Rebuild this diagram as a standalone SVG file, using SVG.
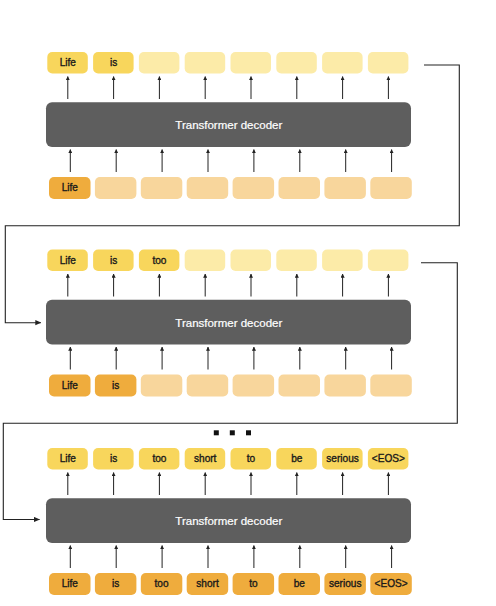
<svg xmlns="http://www.w3.org/2000/svg" width="496" height="606" viewBox="0 0 496 606">
<defs>
<style>
.bg{fill:#ffffff}
.top{fill:#FCEBA8}
.topf{fill:#F8D65C}
.bot{fill:#F8D69C}
.botf{fill:#EFAC3D}
.dec{fill:#5E5E5E}
.lbl{font-family:"Liberation Sans",Arial,sans-serif;font-size:10.1px;fill:#1a1a1a;text-anchor:middle;stroke:#1a1a1a;stroke-width:0.35px}
.dlbl{font-family:"Liberation Sans",Arial,sans-serif;font-size:11.5px;fill:#ffffff;text-anchor:middle;stroke:#ffffff;stroke-width:0.2px}
.arr{stroke:#222;stroke-width:1;fill:none;marker-end:url(#ah)}
.conn{stroke:#222;stroke-width:1.1;fill:none}
</style>
<marker id="ah" viewBox="0 0 6 6" refX="5.5" refY="3" markerWidth="4.2" markerHeight="4.2" orient="auto" markerUnits="userSpaceOnUse">
<path d="M0,0 L6,3 L0,6 z" fill="#222"/>
</marker>
<marker id="ahc" viewBox="0 0 6 6" refX="5.5" refY="3" markerWidth="6" markerHeight="6" orient="auto" markerUnits="userSpaceOnUse">
<path d="M0,0.4 L6,3 L0,5.6 z" fill="#222"/>
</marker>
<g id="arrows">
<line class="arr" x1="67.8" y1="99" x2="67.8" y2="76.5"/>
<line class="arr" x1="113.6" y1="99" x2="113.6" y2="76.5"/>
<line class="arr" x1="159.4" y1="99" x2="159.4" y2="76.5"/>
<line class="arr" x1="205.2" y1="99" x2="205.2" y2="76.5"/>
<line class="arr" x1="251" y1="99" x2="251" y2="76.5"/>
<line class="arr" x1="296.8" y1="99" x2="296.8" y2="76.5"/>
<line class="arr" x1="342.6" y1="99" x2="342.6" y2="76.5"/>
<line class="arr" x1="388.4" y1="99" x2="388.4" y2="76.5"/>
<line class="arr" x1="70.3" y1="172" x2="70.3" y2="149.5"/>
<line class="arr" x1="116.2" y1="172" x2="116.2" y2="149.5"/>
<line class="arr" x1="162.1" y1="172" x2="162.1" y2="149.5"/>
<line class="arr" x1="208" y1="172" x2="208" y2="149.5"/>
<line class="arr" x1="253.9" y1="172" x2="253.9" y2="149.5"/>
<line class="arr" x1="299.8" y1="172" x2="299.8" y2="149.5"/>
<line class="arr" x1="345.7" y1="172" x2="345.7" y2="149.5"/>
<line class="arr" x1="391.6" y1="172" x2="391.6" y2="149.5"/>
</g>
</defs>
<rect class="bg" x="0" y="0" width="496" height="606"/>

<g id="block1">
<g id="b1-out">
<rect class="topf" x="47.3" y="52" width="40.5" height="21.5" rx="5"/>
<rect class="topf" x="93.1" y="52" width="40.5" height="21.5" rx="5"/>
<rect class="top" x="138.9" y="52" width="40.5" height="21.5" rx="5"/>
<rect class="top" x="184.7" y="52" width="40.5" height="21.5" rx="5"/>
<rect class="top" x="230.5" y="52" width="40.5" height="21.5" rx="5"/>
<rect class="top" x="276.3" y="52" width="40.5" height="21.5" rx="5"/>
<rect class="top" x="322.1" y="52" width="40.5" height="21.5" rx="5"/>
<rect class="top" x="367.9" y="52" width="40.5" height="21.5" rx="5"/>
<text class="lbl" x="67.8" y="66.4">Life</text>
<text class="lbl" x="113.6" y="66.4">is</text>
</g>
<g id="b1-dec">
<rect class="dec" x="46" y="102.3" width="365" height="44.7" rx="6"/>
<text class="dlbl" x="228.8" y="129.2">Transformer decoder</text>
</g>
<g id="b1-in">
<rect class="botf" x="49" y="177" width="41.5" height="22" rx="5"/>
<rect class="bot" x="94.9" y="177" width="41.5" height="22" rx="5"/>
<rect class="bot" x="140.8" y="177" width="41.5" height="22" rx="5"/>
<rect class="bot" x="186.7" y="177" width="41.5" height="22" rx="5"/>
<rect class="bot" x="232.6" y="177" width="41.5" height="22" rx="5"/>
<rect class="bot" x="278.5" y="177" width="41.5" height="22" rx="5"/>
<rect class="bot" x="324.4" y="177" width="41.5" height="22" rx="5"/>
<rect class="bot" x="370.3" y="177" width="41.5" height="22" rx="5"/>
<text class="lbl" x="69.8" y="191">Life</text>
</g>
<use href="#arrows"/>
</g>

<g id="block2" transform="translate(0,197.5)">
<g id="b2-out">
<rect class="topf" x="47.3" y="52" width="40.5" height="21.5" rx="5"/>
<rect class="topf" x="93.1" y="52" width="40.5" height="21.5" rx="5"/>
<rect class="topf" x="138.9" y="52" width="40.5" height="21.5" rx="5"/>
<rect class="top" x="184.7" y="52" width="40.5" height="21.5" rx="5"/>
<rect class="top" x="230.5" y="52" width="40.5" height="21.5" rx="5"/>
<rect class="top" x="276.3" y="52" width="40.5" height="21.5" rx="5"/>
<rect class="top" x="322.1" y="52" width="40.5" height="21.5" rx="5"/>
<rect class="top" x="367.9" y="52" width="40.5" height="21.5" rx="5"/>
<text class="lbl" x="67.8" y="66.4">Life</text>
<text class="lbl" x="113.6" y="66.4">is</text>
<text class="lbl" x="159.4" y="66.4">too</text>
</g>
<g id="b2-dec">
<rect class="dec" x="46" y="102.3" width="365" height="44.7" rx="6"/>
<text class="dlbl" x="228.8" y="129.2">Transformer decoder</text>
</g>
<g id="b2-in">
<rect class="botf" x="49" y="177" width="41.5" height="22" rx="5"/>
<rect class="botf" x="94.9" y="177" width="41.5" height="22" rx="5"/>
<rect class="bot" x="140.8" y="177" width="41.5" height="22" rx="5"/>
<rect class="bot" x="186.7" y="177" width="41.5" height="22" rx="5"/>
<rect class="bot" x="232.6" y="177" width="41.5" height="22" rx="5"/>
<rect class="bot" x="278.5" y="177" width="41.5" height="22" rx="5"/>
<rect class="bot" x="324.4" y="177" width="41.5" height="22" rx="5"/>
<rect class="bot" x="370.3" y="177" width="41.5" height="22" rx="5"/>
<text class="lbl" x="69.8" y="191">Life</text>
<text class="lbl" x="115.7" y="191">is</text>
</g>
<use href="#arrows"/>
</g>

<g id="block3" transform="translate(0,396)">
<g id="b3-out">
<rect class="topf" x="47.3" y="52" width="40.5" height="21.5" rx="5"/>
<rect class="topf" x="93.1" y="52" width="40.5" height="21.5" rx="5"/>
<rect class="topf" x="138.9" y="52" width="40.5" height="21.5" rx="5"/>
<rect class="topf" x="184.7" y="52" width="40.5" height="21.5" rx="5"/>
<rect class="topf" x="230.5" y="52" width="40.5" height="21.5" rx="5"/>
<rect class="topf" x="276.3" y="52" width="40.5" height="21.5" rx="5"/>
<rect class="topf" x="322.1" y="52" width="40.5" height="21.5" rx="5"/>
<rect class="topf" x="367.9" y="52" width="40.5" height="21.5" rx="5"/>
<text class="lbl" x="67.8" y="66.4">Life</text>
<text class="lbl" x="113.6" y="66.4">is</text>
<text class="lbl" x="159.4" y="66.4">too</text>
<text class="lbl" x="205.2" y="66.4">short</text>
<text class="lbl" x="251" y="66.4">to</text>
<text class="lbl" x="296.8" y="66.4">be</text>
<text class="lbl" x="342.6" y="66.4">serious</text>
<text class="lbl" x="388.4" y="66.4">&lt;EOS&gt;</text>
</g>
<g id="b3-dec">
<rect class="dec" x="46" y="102.3" width="365" height="44.7" rx="6"/>
<text class="dlbl" x="228.8" y="129.2">Transformer decoder</text>
</g>
<g id="b3-in">
<rect class="botf" x="49" y="177" width="41.5" height="22" rx="5"/>
<rect class="botf" x="94.9" y="177" width="41.5" height="22" rx="5"/>
<rect class="botf" x="140.8" y="177" width="41.5" height="22" rx="5"/>
<rect class="botf" x="186.7" y="177" width="41.5" height="22" rx="5"/>
<rect class="botf" x="232.6" y="177" width="41.5" height="22" rx="5"/>
<rect class="botf" x="278.5" y="177" width="41.5" height="22" rx="5"/>
<rect class="botf" x="324.4" y="177" width="41.5" height="22" rx="5"/>
<rect class="botf" x="370.3" y="177" width="41.5" height="22" rx="5"/>
<text class="lbl" x="69.8" y="191">Life</text>
<text class="lbl" x="115.7" y="191">is</text>
<text class="lbl" x="161.6" y="191">too</text>
<text class="lbl" x="207.5" y="191">short</text>
<text class="lbl" x="253.4" y="191">to</text>
<text class="lbl" x="299.3" y="191">be</text>
<text class="lbl" x="345.2" y="191">serious</text>
<text class="lbl" x="391.1" y="191">&lt;EOS&gt;</text>
</g>
<use href="#arrows"/>
</g>

<g id="ellipsis" fill="#111">
<rect x="213.8" y="430.3" width="5" height="5"/>
<rect x="229.8" y="430.3" width="5" height="5"/>
<rect x="246" y="430.3" width="5" height="5"/>
</g>

<g id="connectors">
<polyline class="conn" points="424,65 459.3,65 459.3,225.7 5.3,225.7 5.3,322.7 40.8,322.7" marker-end="url(#ahc)"/>
<polyline class="conn" points="421,262.7 457.3,262.7 457.3,423.3 3.3,423.3 3.3,519.5 39.5,519.5" marker-end="url(#ahc)"/>
</g>
</svg>
